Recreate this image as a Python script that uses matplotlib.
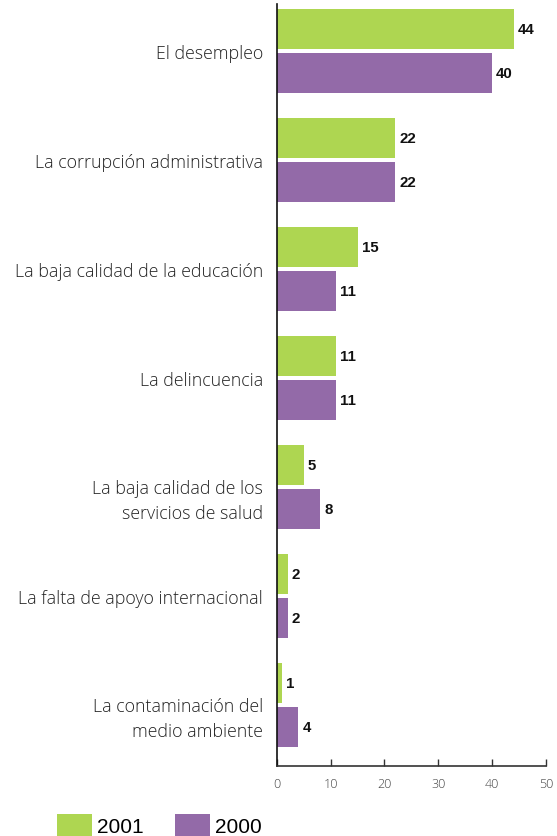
import matplotlib.pyplot as plt
import numpy as np
from matplotlib.patches import Patch
from matplotlib.font_manager import FontProperties

categorias = [
    "El desempleo",
    "La corrupción administrativa",
    "La baja calidad de la educación",
    "La delincuencia",
    "La baja calidad de los\nservicios de salud",
    "La falta de apoyo internacional",
    "La contaminación del\nmedio ambiente",
]
valores_2001 = [44, 22, 15, 11, 5, 2, 1]
valores_2000 = [40, 22, 11, 11, 8, 2, 4]

VERDE = '#AED651'
MORADO = '#936AA8'

fuente_num = FontProperties(family=['Liberation Sans', 'DejaVu Sans'], weight='bold', size=10.8)
fuente_ley = FontProperties(family=['Liberation Sans', 'DejaVu Sans'], size=15)
fuente_cat = FontProperties(family=['Open Sans', 'DejaVu Sans'], weight='light', size=12.8)
fuente_tick = FontProperties(family=['Open Sans', 'DejaVu Sans'], weight='light', size=9)

fig = plt.figure(figsize=(5.57, 8.37), dpi=100)
ax = fig.add_axes([0.497, 0.0836, 0.483, 0.9104])

y = np.arange(len(categorias))
alto = 0.367
desp = 0.202

b1 = ax.barh(y - desp, valores_2001, height=alto, color=VERDE)
b2 = ax.barh(y + desp, valores_2000, height=alto, color=MORADO)

for barras, vals in ((b1, valores_2001), (b2, valores_2000)):
    for b, v in zip(barras, vals):
        ax.annotate(str(v), (b.get_width(), b.get_y() + b.get_height() / 2),
                    xytext=(3, 0), textcoords='offset points', va='center', ha='left',
                    fontproperties=fuente_num, color='#111111')

# etiquetas de categoria (las de dos lineas van un poco mas abajo)
for yi, cat in zip(y, categorias):
    dy = -9.5 if '\n' in cat else -1.5
    ax.annotate(cat, (0, yi), xycoords=('axes fraction', 'data'),
                xytext=(-10, dy), textcoords='offset points', ha='right', va='center',
                multialignment='right', linespacing=1.5,
                fontproperties=fuente_cat, color='#222222')

ax.set_xlim(0, 50)
ax.set_ylim(6.56, -0.43)
ax.set_xticks([0, 10, 20, 30, 40, 50])
ax.set_yticks([])
for t in ax.get_xticklabels():
    t.set_fontproperties(fuente_tick)
    t.set_color('#444444')
ax.tick_params(axis='x', direction='in', length=5, width=1, color='#333333', pad=8)

for s in ('top', 'right'):
    ax.spines[s].set_visible(False)
ax.spines['left'].set_color('#111111')
ax.spines['left'].set_linewidth(1.2)
ax.spines['bottom'].set_color('#333333')
ax.spines['bottom'].set_linewidth(1.2)

leyenda = [Patch(facecolor=VERDE, label='2001'), Patch(facecolor=MORADO, label='2000')]
fig.legend(handles=leyenda, loc='lower left', bbox_to_anchor=(57 / 557, 0.0), ncol=2,
           frameon=False, handlelength=1.68, handleheight=1.2, handletextpad=0.24,
           columnspacing=1.5, borderpad=0, borderaxespad=0, prop=fuente_ley)

fig.savefig('out.png', dpi=100)
